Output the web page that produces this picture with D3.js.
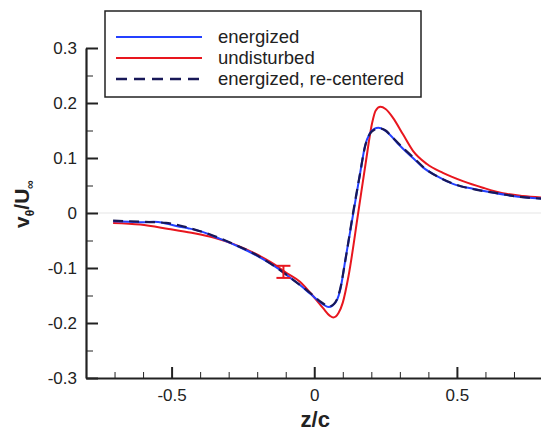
<!DOCTYPE html>
<html>
<head>
<meta charset="utf-8">
<script src="https://cdn.jsdelivr.net/npm/d3@7"></script>
<style>
  body { margin: 0; background: #fff; }
  svg { display: block; font-family: "Liberation Sans", Arial, sans-serif; }
  .axis path, .axis line { stroke: #222; }
  .axis text { font-size: 17px; fill: #222; }
</style>
</head>
<body>
<svg class="chart"></svg>
<script>
var width = 541,
    height = 433;

// energized
var enX = [-0.705, -0.65, -0.6, -0.563, -0.52, -0.48, -0.44, -0.40, -0.34, -0.27, -0.20, -0.13, -0.084, -0.05, -0.014, 0.031, 0.05, 0.065, 0.08, 0.091, 0.11, 0.137, 0.16, 0.178, 0.195, 0.21, 0.225, 0.245, 0.266, 0.297, 0.346, 0.381, 0.43, 0.486, 0.556, 0.626, 0.696, 0.8];
var enY = [-0.015, -0.016, -0.017, -0.016, -0.019, -0.024, -0.028, -0.033, -0.045, -0.06, -0.078, -0.100, -0.118, -0.131, -0.147, -0.166, -0.171, -0.168, -0.158, -0.140, -0.082, 0.0, 0.07, 0.122, 0.145, 0.153, 0.155, 0.151, 0.142, 0.124, 0.100, 0.083, 0.067, 0.053, 0.044, 0.037, 0.031, 0.026];

// undisturbed
var unX = [-0.705, -0.61, -0.51, -0.43, -0.35, -0.28, -0.21, -0.154, -0.094, -0.05, -0.014, 0.031, 0.055, 0.067, 0.085, 0.1, 0.12, 0.154, 0.18, 0.203, 0.215, 0.232, 0.25, 0.276, 0.311, 0.346, 0.395, 0.451, 0.521, 0.591, 0.661, 0.731, 0.8];
var unY = [-0.018, -0.021, -0.029, -0.036, -0.045, -0.057, -0.073, -0.089, -0.110, -0.125, -0.145, -0.173, -0.187, -0.190, -0.182, -0.163, -0.115, 0.0, 0.09, 0.164, 0.186, 0.193, 0.189, 0.173, 0.143, 0.113, 0.089, 0.073, 0.058, 0.046, 0.036, 0.031, 0.028];

// energized, re-centered
var rcX = [-0.705, -0.6, -0.52, -0.44, -0.36, -0.28, -0.20, -0.13, -0.08, -0.02, 0.03, 0.052, 0.07, 0.09, 0.11, 0.136, 0.16, 0.178, 0.195, 0.212, 0.228, 0.25, 0.27, 0.30, 0.345, 0.39, 0.44, 0.5, 0.57, 0.64, 0.71, 0.8];
var rcY = [-0.014, -0.016, -0.018, -0.027, -0.040, -0.057, -0.077, -0.100, -0.119, -0.143, -0.164, -0.170, -0.165, -0.140, -0.083, 0.0, 0.07, 0.121, 0.144, 0.152, 0.154, 0.150, 0.140, 0.124, 0.102, 0.080, 0.064, 0.051, 0.042, 0.036, 0.030, 0.026];

// error bar on undisturbed
var errX = [-0.108],
    errLo = [-0.118],
    errHi = [-0.096];

var xMajor = [-0.5, 0, 0.5],
    xMinor = [-0.7, -0.6, -0.4, -0.3, -0.2, -0.1, 0.1, 0.2, 0.3, 0.4, 0.6, 0.7],
    yMajor = [-0.3, -0.2, -0.1, 0, 0.1, 0.2, 0.3],
    yMinor = [-0.25, -0.15, -0.05, 0.05, 0.15, 0.25];

var legendNames = ["energized", "undisturbed", "energized, re-centered"],
    legendColors = ["#2440ff", "#e8161e", "#181858"];

var margin = {top: 48, right: 0, bottom: 55, left: 86};

var x = d3.scaleLinear().domain([-0.8, 0.8]).range([margin.left, 542.5]),
    y = d3.scaleLinear().domain([-0.3, 0.3]).range([height - margin.bottom, margin.top]);

// plain hyphen minus like the original
var fmt = d3.formatLocale({decimal: ".", thousands: ",", grouping: [3], currency: ["", ""], minus: "-"});

var chart = d3.select(".chart")
    .attr("width", width)
    .attr("height", height);

// faint zero line
chart.append("line")
    .attr("x1", x(-0.8)).attr("x2", x(0.8))
    .attr("y1", y(0)).attr("y2", y(0))
    .attr("stroke", "#eeeeee")
    .attr("stroke-width", 1.5);

// minor ticks
chart.append("g")
    .attr("class", "axis")
    .attr("transform", "translate(0," + y(-0.3) + ")")
    .call(d3.axisBottom(x).tickValues(xMinor).tickSize(-6).tickFormat(""))
    .call(function(g) { g.select(".domain").remove(); g.selectAll("line").attr("stroke", "#777").attr("stroke-width", 1); });

chart.append("g")
    .attr("class", "axis")
    .attr("transform", "translate(" + x(-0.8) + ",0)")
    .call(d3.axisLeft(y).tickValues(yMinor).tickSize(-7).tickFormat(""))
    .call(function(g) { g.select(".domain").remove(); g.selectAll("line").attr("stroke", "#777").attr("stroke-width", 1); });

// major axes
chart.append("g")
    .attr("class", "x axis")
    .attr("transform", "translate(0," + y(-0.3) + ")")
    .call(d3.axisBottom(x).tickValues(xMajor).tickSizeInner(-11).tickSizeOuter(0).tickPadding(11)
      .tickFormat(function(d) { return d === 0 ? "0" : fmt.format("")(d); }))
    .call(function(g) {
      g.select(".domain").attr("stroke-width", 2.2);
      g.selectAll(".tick line").attr("stroke-width", 2);
    });

chart.append("g")
    .attr("class", "y axis")
    .attr("transform", "translate(" + x(-0.8) + ",0)")
    .call(d3.axisLeft(y).tickValues(yMajor).tickSizeInner(-12).tickSizeOuter(0).tickPadding(9)
      .tickFormat(function(d) { return Math.abs(d) < 1e-9 ? "0" : fmt.format(".1f")(d); }))
    .call(function(g) {
      g.select(".domain").attr("stroke-width", 2.2);
      g.selectAll(".tick line").attr("stroke-width", 2);
    });

// axis titles
chart.append("text")
    .attr("x", x(0) + 1)
    .attr("y", 427)
    .attr("text-anchor", "middle")
    .style("font-size", "22px")
    .style("font-weight", "bold")
    .attr("fill", "#222")
    .text("z/c");

var yt = chart.append("text")
    .attr("transform", "translate(29,204) rotate(-90)")
    .attr("text-anchor", "middle")
    .style("font-size", "21px")
    .style("font-weight", "bold")
    .attr("fill", "#222");
yt.append("tspan").text("v");
yt.append("tspan").attr("dy", 5).style("font-size", "12px").text("θ");
yt.append("tspan").attr("dy", -5).text("/U");
yt.append("tspan").attr("dy", 5).style("font-size", "12px").text("∞");

// curves
var line = d3.line()
    .x(function(d) { return x(d[0]); })
    .y(function(d) { return y(d[1]); })
    .curve(d3.curveMonotoneX);

function pairs(xs, ys) { return xs.map(function(v, i) { return [v, ys[i]]; }); }

chart.append("path")
    .datum(pairs(unX, unY))
    .attr("fill", "none")
    .attr("stroke", legendColors[1])
    .attr("stroke-width", 2)
    .attr("d", line);

chart.append("path")
    .datum(pairs(enX, enY))
    .attr("fill", "none")
    .attr("stroke", legendColors[0])
    .attr("stroke-width", 2)
    .attr("d", line);

chart.append("path")
    .datum(pairs(rcX, rcY))
    .attr("fill", "none")
    .attr("stroke", legendColors[2])
    .attr("stroke-width", 2.2)
    .attr("stroke-dasharray", "10,6")
    .attr("d", line);

// error bar
var eb = chart.selectAll(".err")
    .data(errX)
  .enter().append("g")
    .attr("class", "err")
    .attr("stroke", legendColors[1])
    .attr("stroke-width", 2);
eb.append("line")
    .attr("x1", function(d) { return x(d); })
    .attr("x2", function(d) { return x(d); })
    .attr("y1", function(d, i) { return y(errLo[i]); })
    .attr("y2", function(d, i) { return y(errHi[i]); });
eb.append("line")
    .attr("x1", function(d) { return x(d) - 7; })
    .attr("x2", function(d) { return x(d) + 7; })
    .attr("y1", function(d, i) { return y(errLo[i]); })
    .attr("y2", function(d, i) { return y(errLo[i]); });
eb.append("line")
    .attr("x1", function(d) { return x(d) - 7; })
    .attr("x2", function(d) { return x(d) + 7; })
    .attr("y1", function(d, i) { return y(errHi[i]); })
    .attr("y2", function(d, i) { return y(errHi[i]); });

// legend
var legend = chart.append("g")
    .attr("transform", "translate(105,11)");
legend.append("rect")
    .attr("width", 316)
    .attr("height", 86)
    .attr("fill", "#fff")
    .attr("stroke", "#222")
    .attr("stroke-width", 1.5);

var item = legend.selectAll(".item")
    .data(legendNames)
  .enter().append("g")
    .attr("class", "item")
    .attr("transform", function(d, i) { return "translate(0," + (26 + i * 21) + ")"; });
item.append("line")
    .attr("x1", 11).attr("x2", 97)
    .attr("stroke", function(d, i) { return legendColors[i]; })
    .attr("stroke-width", function(d, i) { return i == 2 ? 2.6 : 2.2; })
    .attr("stroke-dasharray", function(d, i) { return i == 2 ? "11,7" : null; });
item.append("text")
    .attr("x", 113)
    .attr("dy", "0.35em")
    .style("font-size", "18.5px")
    .attr("fill", "#222")
    .text(function(d) { return d; });
</script>
</body>
</html>
